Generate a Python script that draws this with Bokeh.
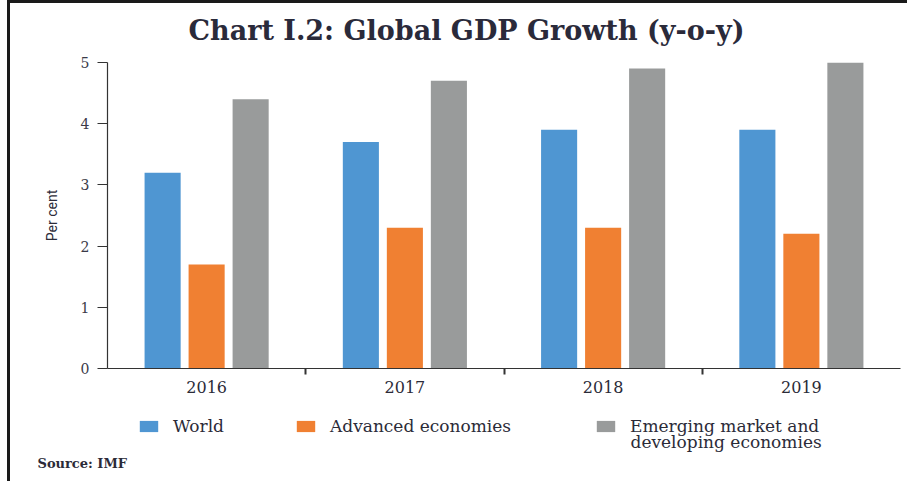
import numpy as np
from bokeh.plotting import figure
from bokeh.layouts import column
from bokeh.models import (Range1d, FixedTicker, Label, Legend, LegendItem)
from bokeh.embed import file_html
from bokeh.resources import INLINE

# ---- data ----
years = ["2016", "2017", "2018", "2019"]
world = [3.2, 3.7, 3.9, 3.9]
advanced = [1.7, 2.3, 2.3, 2.2]
emerging = [4.4, 4.7, 4.9, 5.0]
series = [world, advanced, emerging]
series_names = ["World", "Advanced economies", "Emerging market and"]
series_name_line2 = "developing economies"
y_ticks = [0, 1, 2, 3, 4, 5]
title_text = "Chart I.2: Global GDP Growth (y-o-y)"
source_text = "Source: IMF"

colors = ["#4f96d2", "#f08032", "#999b9b"]
SERIF = "DejaVu Serif"
TXT = "#2b2b38"

W = 897
HT, HA, HB = 45, 365, 68
FL, FR, FT, FB = 97, 890, 14, 320  # frame edges in chart-figure px


def blank(h):
    f = figure(width=W, height=h, output_backend="svg", toolbar_location=None,
               x_range=Range1d(0, W), y_range=Range1d(0, h),
               x_axis_type=None, y_axis_type=None,
               min_border=0, frame_align=False)
    f.outline_line_color = None
    f.xgrid.grid_line_color = None
    f.ygrid.grid_line_color = None
    return f


# ---- title strip ----
t = blank(HT)
t.add_layout(Label(x=456, y=18, x_units="screen", y_units="screen",
                   text=title_text, text_align="center", text_baseline="middle",
                   text_font=SERIF, text_font_style="bold",
                   text_font_size="27px", text_color="#2a2a3a"))

# ---- chart ----
p = figure(width=W, height=HA, output_backend="svg", toolbar_location=None,
           x_range=Range1d(0, len(years)), y_range=Range1d(0, 5),
           min_border_left=FL, min_border_right=W - FR,
           min_border_top=FT, min_border_bottom=HA - FB, frame_align=False)
p.outline_line_color = None
p.xgrid.grid_line_color = None
p.ygrid.grid_line_color = None

idx = np.arange(len(years))
bw = 0.182
offsets = [-0.222, 0.0, 0.222]
for vals, off, col in zip(series, offsets, colors):
    p.vbar(x=idx + 0.5 + off, top=vals, bottom=0, width=bw,
           fill_color=col, line_color=None)

# x axis
xa = p.xaxis[0]
xa.ticker = FixedTicker(ticks=list(idx + 0.5), minor_ticks=list(idx[1:]))
xa.major_label_overrides = {float(i + 0.5): y for i, y in enumerate(years)}
xa.major_tick_out = 0
xa.major_tick_in = 0
xa.minor_tick_out = 6
xa.minor_tick_in = 0
xa.minor_tick_line_color = "#333333"
xa.minor_tick_line_width = 2
xa.axis_line_color = "#333333"
xa.axis_line_width = 1.2
xa.major_label_standoff = 6
xa.major_label_text_font = SERIF
xa.major_label_text_font_size = "16px"
xa.major_label_text_color = TXT

# y axis
ya = p.yaxis[0]
ya.ticker = FixedTicker(ticks=y_ticks)
ya.minor_tick_out = 0
ya.minor_tick_in = 0
ya.major_tick_out = 10
ya.major_tick_in = 0
ya.major_tick_line_color = "#333333"
ya.axis_line_color = "#333333"
ya.axis_line_width = 1.2
ya.major_label_standoff = 8
ya.major_label_text_font = SERIF
ya.major_label_text_font_size = "14px"
ya.major_label_text_color = "#3a3a48"
ya.axis_label = "Per cent"
ya.axis_label_text_font = "Roboto"
ya.axis_label_text_font_style = "normal"
ya.axis_label_text_font_size = "14px"
ya.axis_label_text_color = TXT
ya.axis_label_standoff = 18

# ---- legend / source strip ----
q = blank(HB)
# hidden copies of the series, used only as legend keys
leg_renderers = [q.vbar(x=idx, top=vals, width=0.5, fill_color=c,
                        line_color=None, visible=False)
                 for vals, c in zip(series, colors)]
leg_pos = [(127, 45), (284, 45), (584, 45)]
for name, r, pos in zip(series_names, leg_renderers, leg_pos):
    lg = Legend(items=[LegendItem(label=name, renderers=[r])], location=pos,
                padding=0, margin=0, border_line_color=None,
                background_fill_alpha=0, inactive_fill_alpha=0,
                glyph_width=23, glyph_height=14, label_standoff=13,
                label_text_font=SERIF, label_text_font_size="17px",
                label_text_color=TXT, label_height=14)
    q.add_layout(lg)

q.add_layout(Label(x=620, y=40, x_units="screen", y_units="screen",
                   text=series_name_line2, text_baseline="middle",
                   text_font=SERIF, text_font_size="17px", text_color=TXT))

q.add_layout(Label(x=27, y=18, x_units="screen", y_units="screen",
                   text=source_text, text_baseline="middle",
                   text_font=SERIF, text_font_style="bold",
                   text_font_size="13px", text_color=TXT))

layout = column(t, p, q, spacing=0,
                styles={"margin-left": "7px",
                        "border-left": "3px solid #1a1a1a",
                        "border-top": "3px solid #1a1a1a"})

open("out.html", "w").write(file_html(layout, INLINE))
